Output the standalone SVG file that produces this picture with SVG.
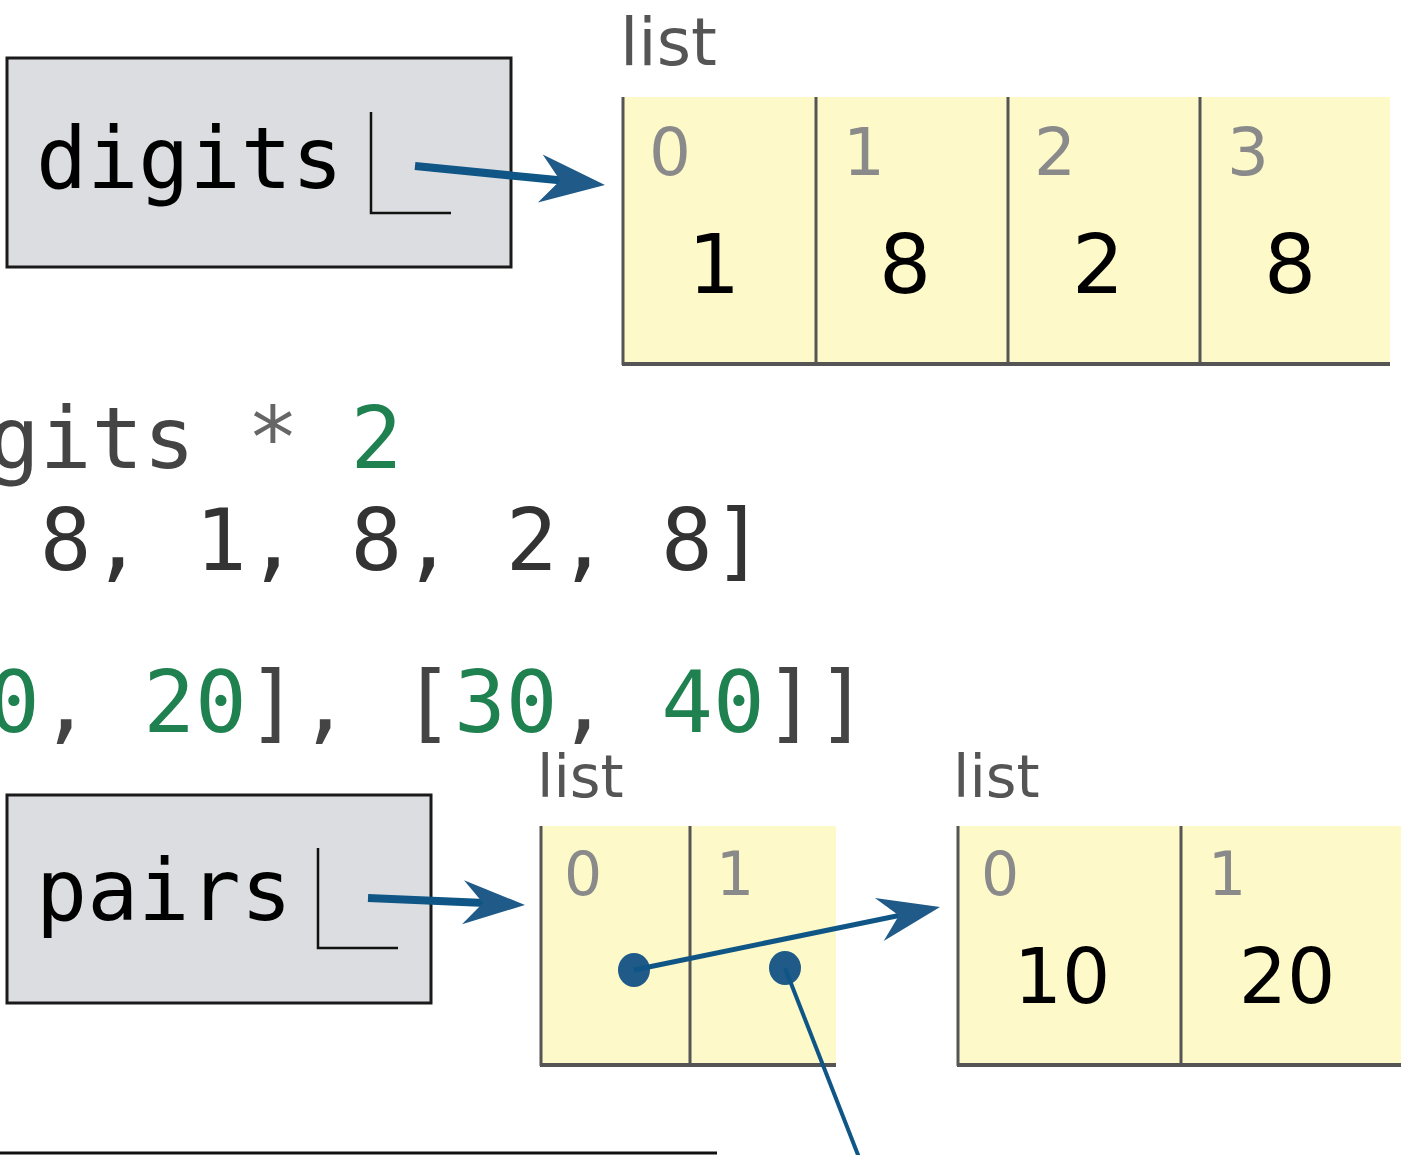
<svg xmlns="http://www.w3.org/2000/svg" width="1401" height="1155" viewBox="0 0 1401 1155">
<style>
.frame{fill:#dcdde0;stroke:#1a1a1a;stroke-width:3}
.var{font-family:"DejaVu Sans Mono",monospace;font-size:85px;fill:#000}
.ptrbox{fill:none;stroke:#111;stroke-width:2.5}
.cell{fill:#fdf9c9}
.border{stroke:#555;stroke-width:3;fill:none}
.bottom{stroke:#555;stroke-width:4;fill:none}
.lbl{font-family:"DejaVu Sans",Verdana,sans-serif;fill:#555}
.idx{font-family:"DejaVu Sans",Verdana,sans-serif;fill:#8a8a8a}
.val{font-family:"DejaVu Sans",Verdana,sans-serif;fill:#000;text-anchor:middle}
.code{font-family:"DejaVu Sans Mono",monospace;font-size:86px}
.g{fill:#444}.op{fill:#666}.n{fill:#1f8050}.d{fill:#333}
.ptr{stroke:#0f5686;fill:none}
.head{fill:#1f5a88}
</style>

<!-- code lines -->
<g id="code">
<text class="code" x="-12" y="468" xml:space="preserve"><tspan class="g">gits </tspan><tspan class="op">*</tspan><tspan class="g"> </tspan><tspan class="n">2</tspan></text>
<text class="code d" x="-12" y="570" xml:space="preserve"> 8, 1, 8, 2, 8]</text>
<text class="code" x="-12" y="732" xml:space="preserve"><tspan class="n">0</tspan><tspan class="g">, </tspan><tspan class="n">20</tspan><tspan class="g">], [</tspan><tspan class="n">30</tspan><tspan class="g">, </tspan><tspan class="n">40</tspan><tspan class="g">]]</tspan></text>
</g>

<g id="digits-var">
<rect class="frame" x="7" y="58" width="504" height="209"/>
<text class="var" x="36" y="188">digits</text>
<path class="ptrbox" d="M371 112 V213 H451"/>
</g>

<g id="pairs-var">
<rect class="frame" x="7" y="795" width="424" height="208"/>
<text class="var" x="36" y="920">pairs</text>
<path class="ptrbox" d="M318 848 V948 H398"/>
</g>

<g id="list-digits">
<text class="lbl" x="620" y="65" font-size="66">list</text>
<rect class="cell" x="622" y="97" width="768" height="268"/>
<path class="border" d="M623 97 V365 M816 97 V365 M1008 97 V365 M1200 97 V365"/>
<path class="bottom" d="M622 364 H1390"/>
<text class="idx" x="649" y="175" font-size="66">0</text>
<text class="idx" x="843" y="175" font-size="66">1</text>
<text class="idx" x="1034" y="175" font-size="66">2</text>
<text class="idx" x="1227" y="175" font-size="66">3</text>
<text class="val" x="714" y="293" font-size="82">1</text>
<text class="val" x="905" y="293" font-size="82">8</text>
<text class="val" x="1098" y="293" font-size="82">2</text>
<text class="val" x="1290" y="293" font-size="82">8</text>
</g>

<g id="list-pairs">
<text class="lbl" x="537" y="797" font-size="59">list</text>
<rect class="cell" x="540" y="826" width="296" height="240"/>
<path class="border" d="M541 826 V1066 M690 826 V1066"/>
<path class="bottom" d="M540 1065 H836"/>
<text class="idx" x="564" y="895" font-size="60">0</text>
<text class="idx" x="716" y="895" font-size="60">1</text>
</g>

<g id="list-10-20">
<text class="lbl" x="953" y="797" font-size="59">list</text>
<rect class="cell" x="957" y="826" width="444" height="240"/>
<path class="border" d="M958 826 V1066 M1181 826 V1066"/>
<path class="bottom" d="M957 1065 H1401"/>
<text class="idx" x="981" y="895" font-size="60">0</text>
<text class="idx" x="1208" y="895" font-size="60">1</text>
<text class="val" x="1062" y="1003" font-size="76">10</text>
<text class="val" x="1287" y="1003" font-size="76">20</text>
</g>

<g id="bottom-frame">
<path d="M0 1153 H717" stroke="#111" stroke-width="3" fill="none"/>
</g>

<g id="connectors">
<path class="ptr" stroke-width="8" d="M415 166 L562 180.5"/>
<polygon class="head" points="605,185 542.7,154.6 560.2,180.5 537.9,202.4"/>
<path class="ptr" stroke-width="8" d="M368 898 L485 903"/>
<polygon class="head" points="525,905 464,880.2 483,903.1 462,924.2"/>
<ellipse class="head" cx="634" cy="970" rx="16" ry="17"/>
<path class="ptr" stroke-width="5" d="M634 970 L899 915.5"/>
<polygon class="head" points="940,907 874.9,898 898.9,915.5 883.7,941"/>
<ellipse class="head" cx="785" cy="968" rx="16" ry="17"/>
<path class="ptr" stroke-width="4" d="M785 968 L860 1160"/>
</g>
</svg>
